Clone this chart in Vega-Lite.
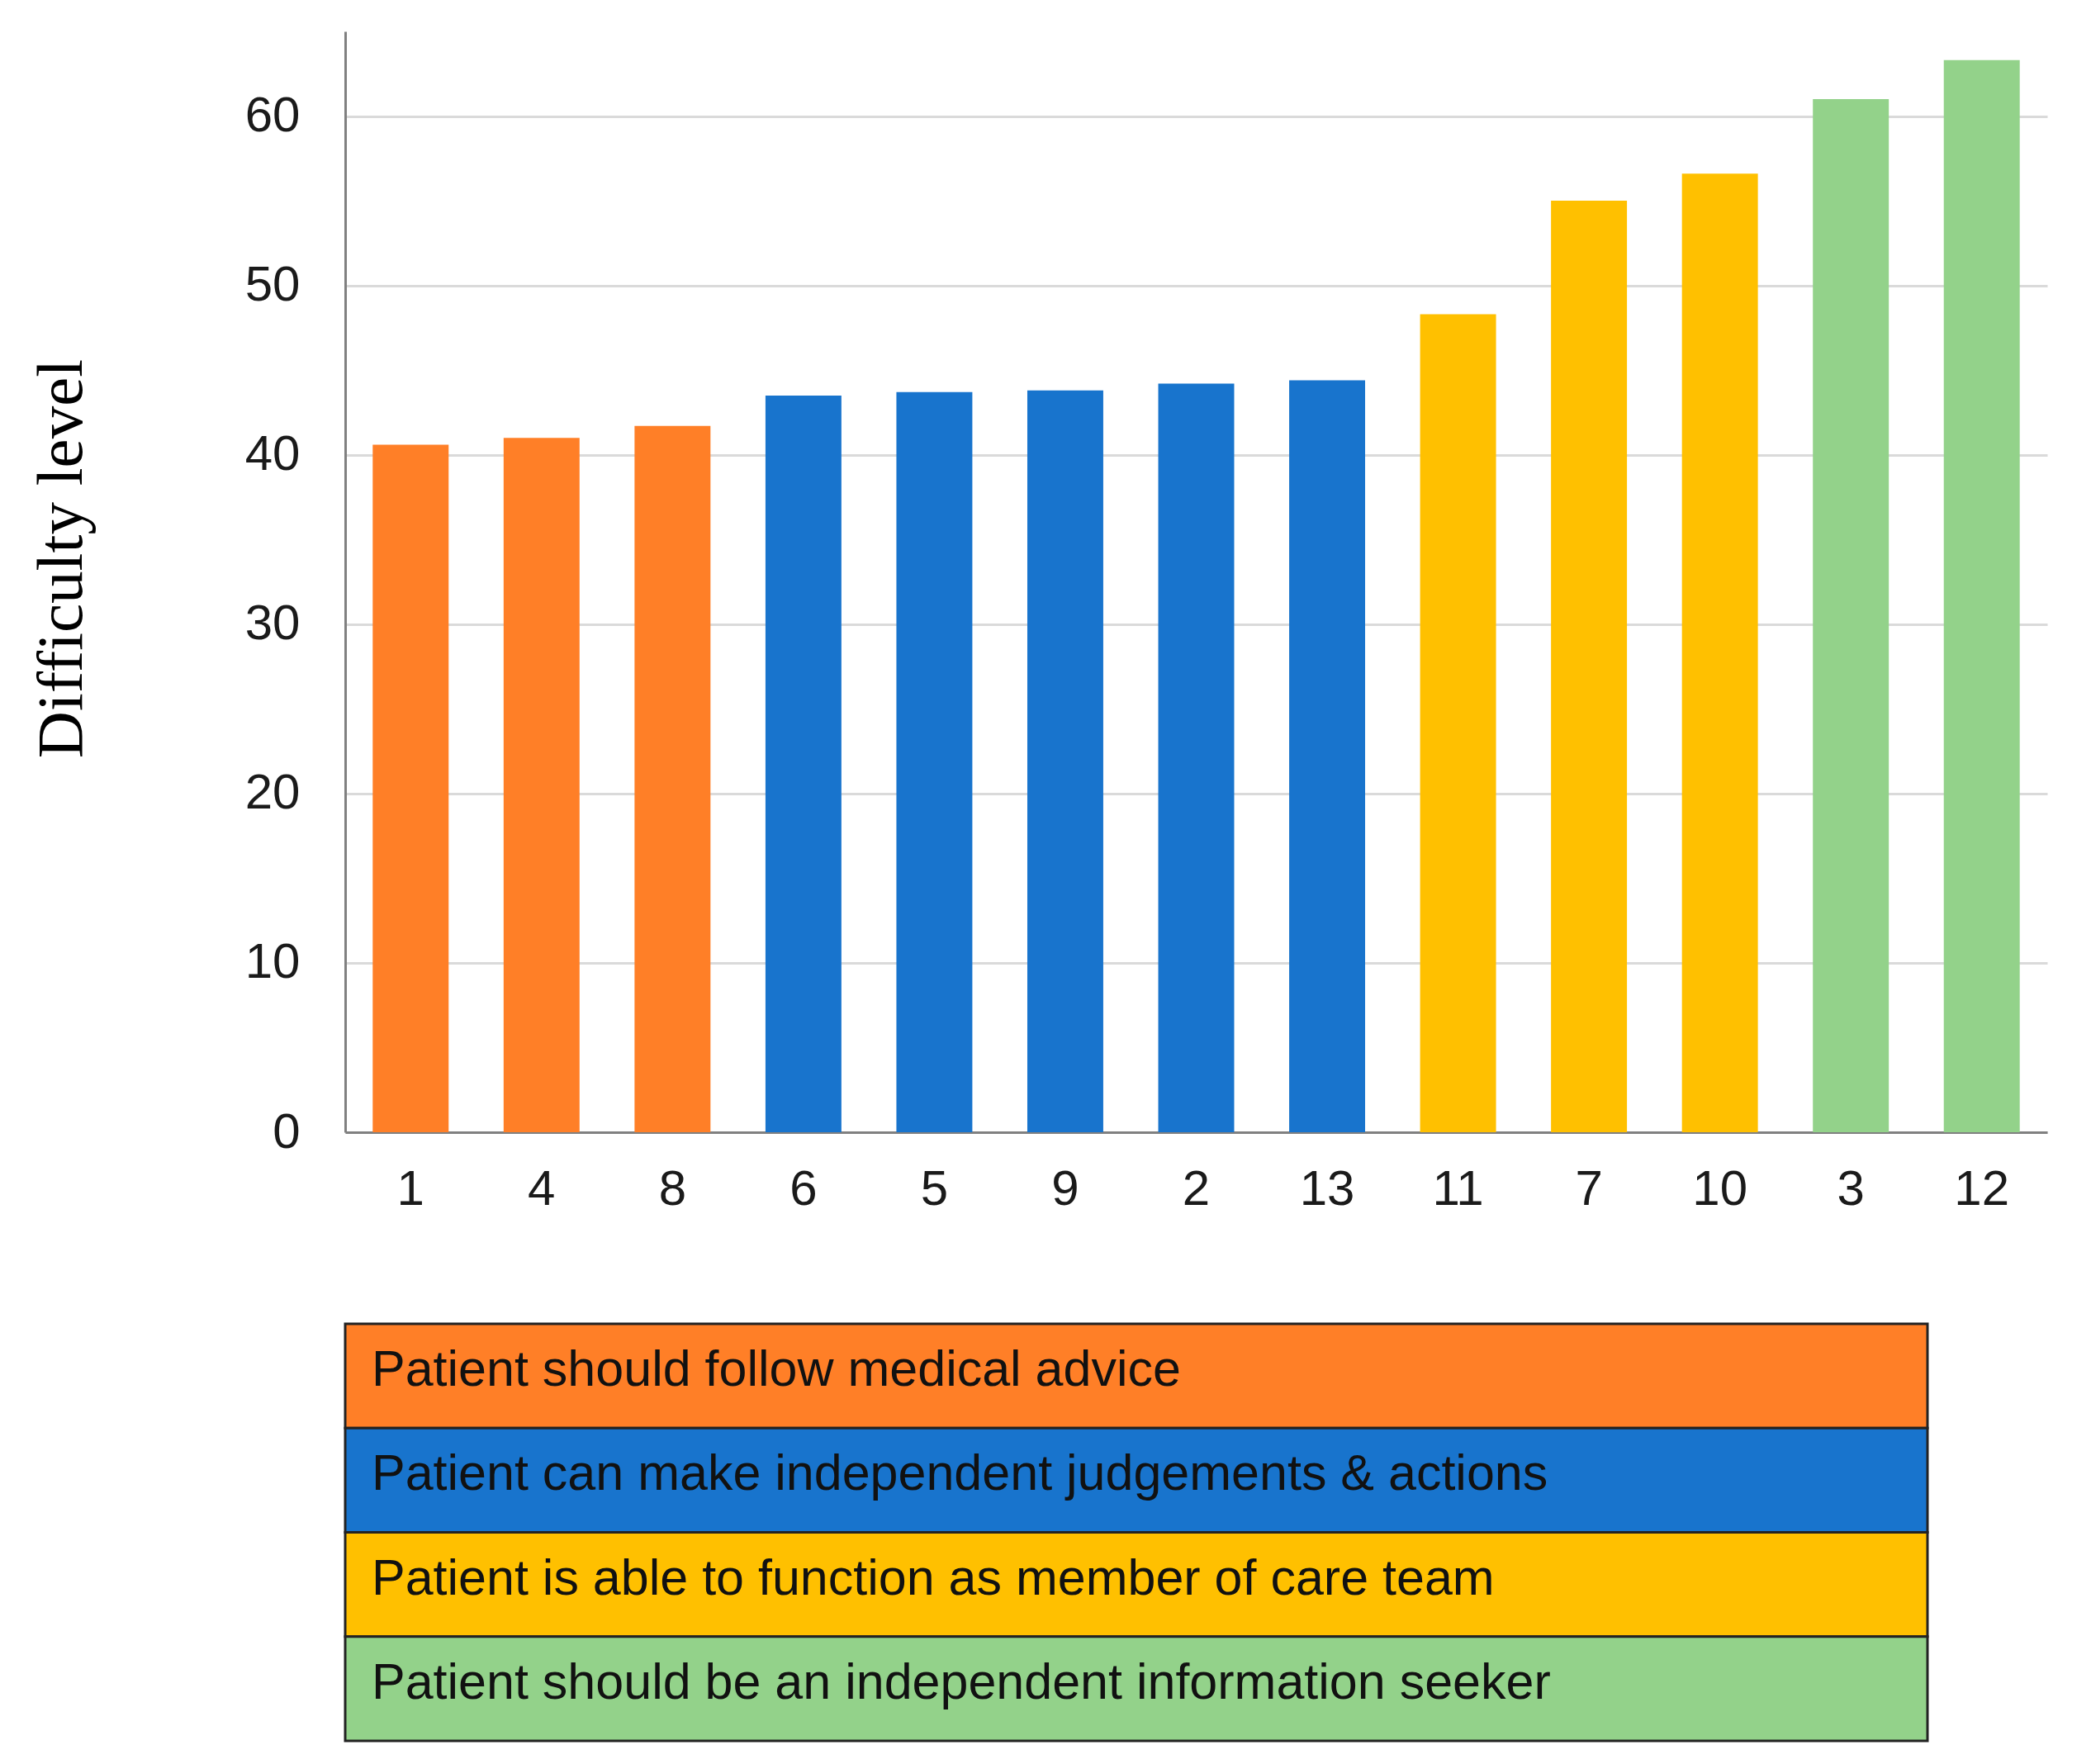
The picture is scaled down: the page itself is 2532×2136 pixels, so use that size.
{
  "$schema": "https://vega.github.io/schema/vega-lite/v6.json",
  "background": "white",
  "padding": {"left": 35, "top": 38, "right": 30, "bottom": 10},
  "spacing": 131,
  "config": {
    "view": {"stroke": null},
    "axis": {"labelFont": "Liberation Sans", "labelColor": "#1a1a1a", "titleFont": "Liberation Serif"}
  },
  "datasets": {
    "bars": [
      {"item": "1", "value": 40.6, "category": "Patient should follow medical advice"},
      {"item": "4", "value": 41.0, "category": "Patient should follow medical advice"},
      {"item": "8", "value": 41.7, "category": "Patient should follow medical advice"},
      {"item": "6", "value": 43.5, "category": "Patient can make independent judgements & actions"},
      {"item": "5", "value": 43.7, "category": "Patient can make independent judgements & actions"},
      {"item": "9", "value": 43.8, "category": "Patient can make independent judgements & actions"},
      {"item": "2", "value": 44.2, "category": "Patient can make independent judgements & actions"},
      {"item": "13", "value": 44.4, "category": "Patient can make independent judgements & actions"},
      {"item": "11", "value": 48.3, "category": "Patient is able to function as member of care team"},
      {"item": "7", "value": 55.0, "category": "Patient is able to function as member of care team"},
      {"item": "10", "value": 56.6, "category": "Patient is able to function as member of care team"},
      {"item": "3", "value": 61.0, "category": "Patient should be an independent information seeker"},
      {"item": "12", "value": 63.3, "category": "Patient should be an independent information seeker"}
    ],
    "legend": [
      {"category": "Patient should follow medical advice"},
      {"category": "Patient can make independent judgements & actions"},
      {"category": "Patient is able to function as member of care team"},
      {"category": "Patient should be an independent information seeker"}
    ]
  },
  "vconcat": [
    {
      "width": 2061,
      "height": 1333,
      "data": {"name": "bars"},
      "mark": {"type": "bar"},
      "encoding": {
        "x": {
          "field": "item", "type": "ordinal", "sort": null,
          "scale": {"paddingInner": 0.42, "paddingOuter": 0.21},
          "axis": {"title": null, "labelAngle": 0, "labelFontSize": 60, "ticks": false, "tickSize": 0, "labelPadding": 40, "domainColor": "#808080", "domainWidth": 3, "grid": false}
        },
        "y": {
          "field": "value", "type": "quantitative",
          "scale": {"domain": [0, 65], "nice": false},
          "axis": {"title": "Difficulty level", "titleFontSize": 79, "titleFontWeight": "normal", "titleColor": "#000000", "titlePadding": 181, "titleY": 638, "values": [0, 10, 20, 30, 40, 50, 60], "labelFontSize": 60, "ticks": false, "tickSize": 0, "labelPadding": 55, "domainColor": "#808080", "domainWidth": 3, "grid": true, "gridColor": "#dadada", "gridWidth": 3}
        },
        "color": {
          "field": "category", "type": "nominal",
          "scale": {
            "domain": ["Patient should follow medical advice", "Patient can make independent judgements & actions", "Patient is able to function as member of care team", "Patient should be an independent information seeker"],
            "range": ["#FF7F27", "#1874CD", "#FFC000", "#93D28A"]
          },
          "legend": null
        }
      }
    },
    {
      "width": 1916,
      "height": 505,
      "data": {"name": "legend"},
      "layer": [
        {
          "mark": {"type": "rect", "stroke": "#222222", "strokeWidth": 3},
          "encoding": {
            "y": {"field": "category", "type": "nominal", "sort": null, "scale": {"paddingInner": 0, "paddingOuter": 0}, "axis": null},
            "color": {
              "field": "category", "type": "nominal",
              "scale": {
                "domain": ["Patient should follow medical advice", "Patient can make independent judgements & actions", "Patient is able to function as member of care team", "Patient should be an independent information seeker"],
                "range": ["#FF7F27", "#1874CD", "#FFC000", "#93D28A"]
              },
              "legend": null
            }
          }
        },
        {
          "mark": {"type": "text", "align": "left", "baseline": "middle", "font": "Liberation Sans", "fontSize": 61, "color": "#111111", "dx": 32, "dy": -6},
          "encoding": {
            "y": {"field": "category", "type": "nominal", "sort": null, "axis": null},
            "x": {"value": 0},
            "text": {"field": "category"}
          }
        }
      ]
    }
  ]
}
